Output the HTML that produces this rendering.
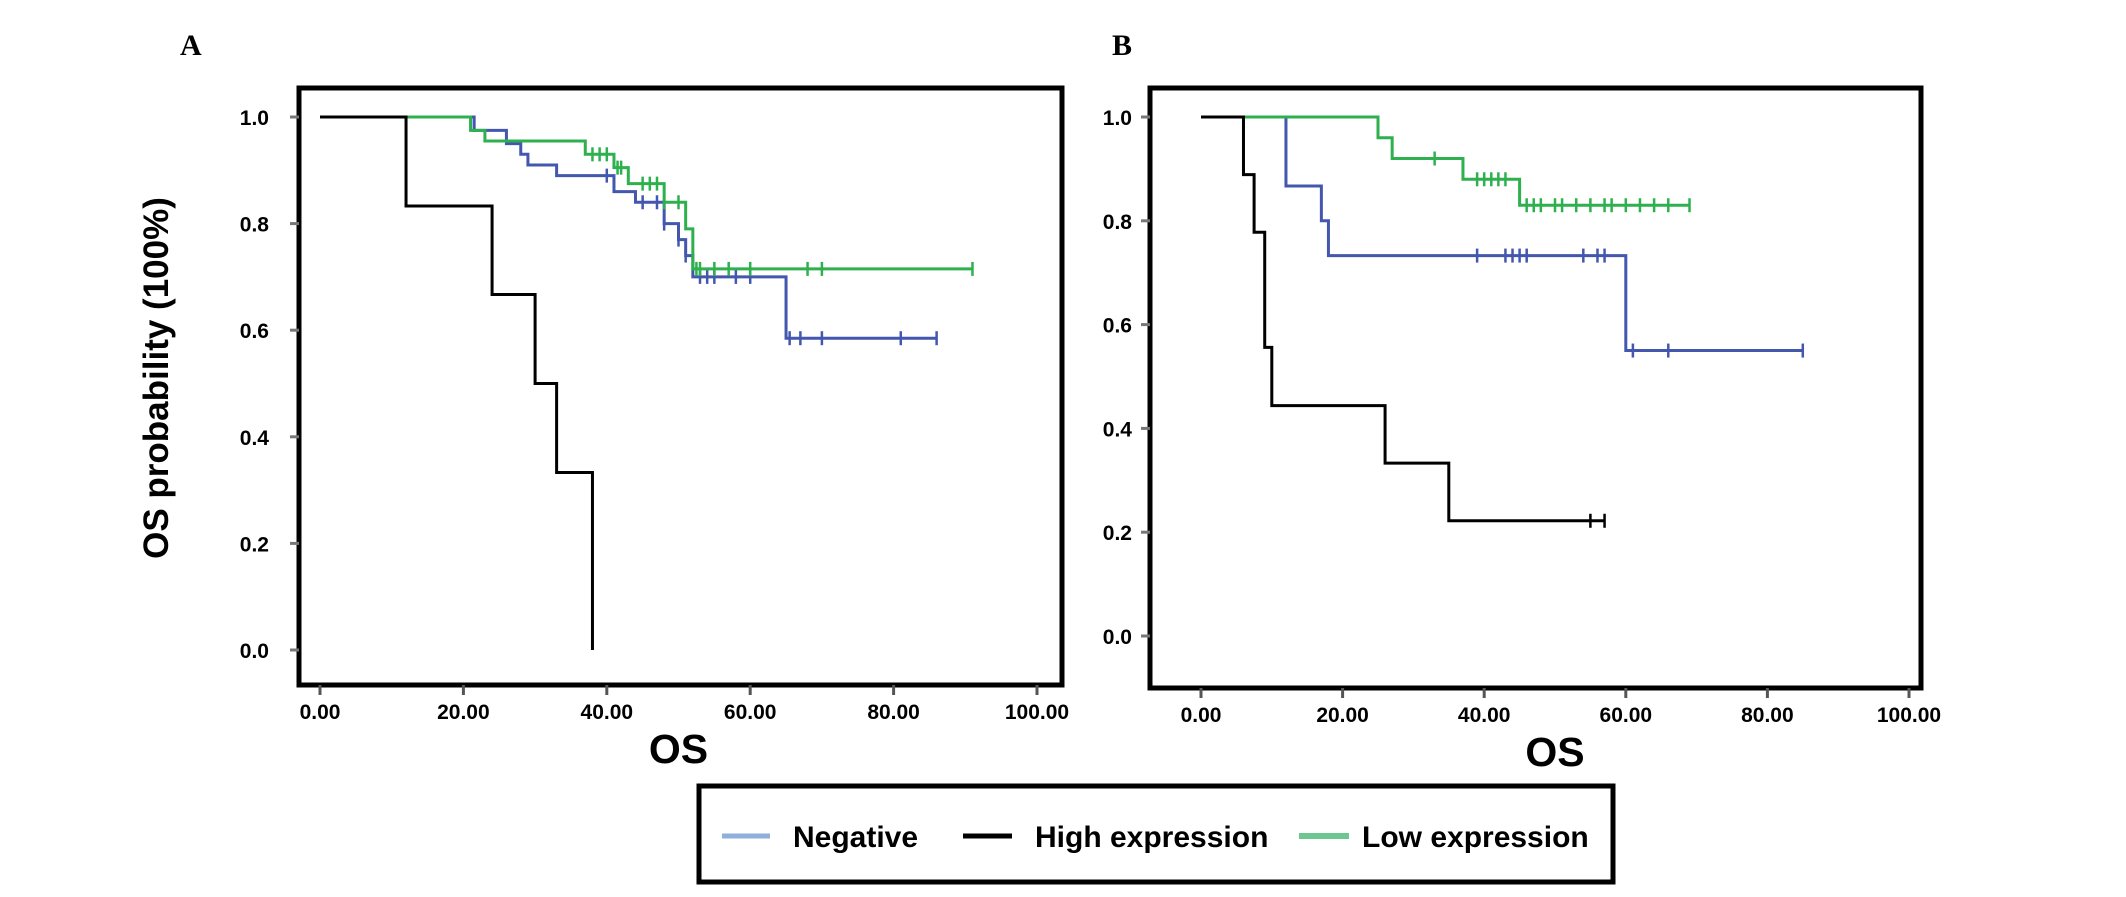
<!DOCTYPE html>
<html><head><meta charset="utf-8"><style>
html,body{margin:0;padding:0;background:#fff;}
svg{display:block;}
text{font-family:"Liberation Sans",sans-serif;font-weight:bold;}
</style></head><body>
<svg id="c" width="2126" height="897" viewBox="0 0 2126 897">
<text x="180" y="55" style="font-family:'Liberation Serif',serif;font-size:30px">A</text>
<text x="1112" y="55" style="font-family:'Liberation Serif',serif;font-size:30px">B</text>
<text transform="translate(168,378) rotate(-90)" text-anchor="middle" font-size="35">OS probability (100%)</text>
<g>
<rect x="699" y="786" width="914" height="96" fill="#fff" stroke="#000" stroke-width="5"/>
<line x1="722" y1="836" x2="770" y2="836" stroke="#8fb0dc" stroke-width="5"/>
<text x="793" y="847" font-size="30">Negative</text>
<line x1="963" y1="836" x2="1012" y2="836" stroke="#000" stroke-width="5"/>
<text x="1035" y="847" font-size="30">High expression</text>
<line x1="1299" y1="836" x2="1349" y2="836" stroke="#6cc790" stroke-width="6"/>
<text x="1340" y="847" font-size="30" dx="22">Low expression</text>
</g>
</svg>
<script>
// Panel A data
const xTicks = [0, 20, 40, 60, 80, 100];
const xTickLabels = ["0.00", "20.00", "40.00", "60.00", "80.00", "100.00"];
const yTicks = [0, 0.2, 0.4, 0.6, 0.8, 1.0];
const yTickLabels = ["0.0", "0.2", "0.4", "0.6", "0.8", "1.0"];
const aHighTimes = [0, 12, 24, 30, 33, 38];
const aHighSurv = [1.0, 0.833, 0.667, 0.5, 0.333, 0.0];
const aHighEnd = 38;
const aNegTimes = [0, 21.5, 26, 28, 29, 33, 41, 44, 48, 50, 51, 52, 65];
const aNegSurv = [1.0, 0.975, 0.95, 0.93, 0.91, 0.89, 0.86, 0.84, 0.80, 0.77, 0.74, 0.70, 0.585];
const aNegEnd = 86;
const aNegCensor = [40, 45, 47, 48, 50, 51, 53, 54, 55, 58, 60, 65.5, 67, 70, 81, 86];
const aLowTimes = [0, 21, 23, 37, 41, 43, 48, 51, 52];
const aLowSurv = [1.0, 0.975, 0.955, 0.93, 0.905, 0.875, 0.84, 0.79, 0.715];
const aLowEnd = 91;
const aLowCensor = [38, 39, 40, 41.5, 42, 45, 46, 47, 48, 50, 52.5, 53, 55, 57, 60, 68, 70, 91];
// Panel B data
const bHighTimes = [0, 6, 7.5, 9, 10, 26, 35];
const bHighSurv = [1.0, 0.889, 0.778, 0.556, 0.444, 0.333, 0.222];
const bHighEnd = 57;
const bHighCensor = [55, 57];
const bNegTimes = [0, 12, 17, 18, 60];
const bNegSurv = [1.0, 0.867, 0.80, 0.733, 0.55];
const bNegEnd = 85;
const bNegCensor = [39, 43, 44, 45, 46, 54, 56, 57, 61, 66, 85];
const bLowTimes = [0, 25, 27, 37, 45];
const bLowSurv = [1.0, 0.96, 0.92, 0.88, 0.83];
const bLowEnd = 69;
const bLowCensor = [33, 39, 40, 41, 42, 43, 46, 47, 48, 50, 51, 53, 55, 57, 58, 60, 62, 64, 66, 69];

const NS = "http://www.w3.org/2000/svg";
const svg = document.getElementById("c");
function mk(tag, attrs, parent) {
  const e = document.createElementNS(NS, tag);
  for (const k in attrs) e.setAttribute(k, attrs[k]);
  (parent || svg).appendChild(e);
  return e;
}
function survAt(times, surv, t) {
  let s = surv[0];
  for (let i = 0; i < times.length; i++) if (times[i] <= t) s = surv[i];
  return s;
}
function panel(id, box, x0, x1, y1, y0, labGap) {
  const sx = v => x0 + (x1 - x0) * v / 100;
  const sy = v => y0 + (y1 - y0) * v;
  const g = mk("g", {});
  
  
  const frame = mk("rect", {x: box[0], y: box[1], width: box[2] - box[0], height: box[3] - box[1], fill: "#fff", stroke: "#000", "stroke-width": 5}, g);
  
  
  xTicks.forEach((v, i) => {
    const tk = mk("line", {x1: sx(v), x2: sx(v), y1: box[3], y2: box[3] + 10, stroke: "#555", "stroke-width": 3}, g);
    
    
    const t = mk("text", {x: sx(v), y: box[3] + 34, "text-anchor": "middle", "font-size": 21}, g);
    t.textContent = xTickLabels[i];
    
    
  });
  yTicks.forEach((v, i) => {
    const tk = mk("line", {x1: box[0] - 9, x2: box[0], y1: sy(v), y2: sy(v), stroke: "#777", "stroke-width": 3}, g);
    
    
    const t = mk("text", {x: box[0] - labGap, y: sy(v) + 8, "text-anchor": "end", "font-size": 21}, g);
    t.textContent = yTickLabels[i];
    
    
  });
  const os = mk("text", {x: (sx(0) + sx(100)) / 2, y: box[3] + 78, "text-anchor": "middle", "font-size": 41}, g);
  os.textContent = "OS";
  
  
  return {g, sx, sy};
}
function curve(p, name, times, surv, end, censor, color, width, toZero) {
  let d = "M" + p.sx(times[0]) + "," + p.sy(surv[0]);
  for (let i = 1; i < times.length; i++) {
    d += "H" + p.sx(times[i]) + "V" + p.sy(surv[i]);
  }
  if (!toZero) d += "H" + p.sx(end);
  const path = mk("path", {d: d, fill: "none", stroke: color, "stroke-width": width}, p.g);
  
  
  (censor || []).forEach(t => {
    const y = p.sy(survAt(times, surv, t));
    const m = mk("line", {x1: p.sx(t), x2: p.sx(t), y1: y - 7, y2: y + 7, stroke: color, "stroke-width": 2.5}, p.g);
    
    
  });
}
const A = panel("a", [299, 88, 1062, 685], 320, 1037, 117, 650, 30);
curve(A, "curve-a-negative", aNegTimes, aNegSurv, aNegEnd, aNegCensor, "#4257ad", 3, false);
curve(A, "curve-a-low", aLowTimes, aLowSurv, aLowEnd, aLowCensor, "#2eb04e", 3, false);
curve(A, "curve-a-high", aHighTimes, aHighSurv, aHighEnd, [], "#000", 3, true);
const B = panel("b", [1150, 88, 1921, 688], 1201, 1909, 117, 636, 18);
curve(B, "curve-b-negative", bNegTimes, bNegSurv, bNegEnd, bNegCensor, "#4257ad", 3, false);
curve(B, "curve-b-low", bLowTimes, bLowSurv, bLowEnd, bLowCensor, "#2eb04e", 3, false);
curve(B, "curve-b-high", bHighTimes, bHighSurv, bHighEnd, bHighCensor, "#000", 3, false);
</script>
</body></html>
